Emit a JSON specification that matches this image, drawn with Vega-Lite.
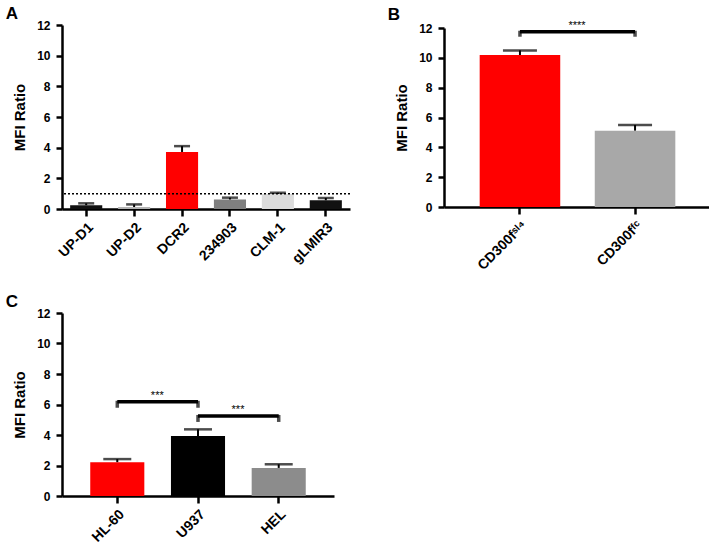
{
  "$schema": "https://vega.github.io/schema/vega-lite/v6.json",
  "padding": {"left": 5, "top": 5, "right": 2, "bottom": 4},
  "datasets": {
    "a": [
      {"name": "UP-D1", "value": 0.25, "err": 0.37},
      {"name": "UP-D2", "value": 0.13, "err": 0.3},
      {"name": "DCR2", "value": 3.72, "err": 4.1},
      {"name": "234903", "value": 0.62, "err": 0.74},
      {"name": "CLM-1", "value": 0.98, "err": 1.06},
      {"name": "gLMIR3", "value": 0.57, "err": 0.72}
    ],
    "ref": [
      {"ratio": 1}
    ],
    "b": [
      {"name": "CD300fˢᴵ⁴", "value": 10.19, "err": 10.5},
      {"name": "CD300fᶠᶜ", "value": 5.12, "err": 5.5}
    ],
    "sigB": [
      {"from": "CD300fˢᴵ⁴", "to": "CD300fᶠᶜ", "level": 11.75, "label": "****"}
    ],
    "c": [
      {"name": "HL-60", "value": 2.22, "err": 2.42},
      {"name": "U937", "value": 3.93, "err": 4.37},
      {"name": "HEL", "value": 1.84, "err": 2.08}
    ],
    "sigC": [
      {"from": "HL-60", "to": "U937", "level": 6.18, "label": "***"},
      {"from": "U937", "to": "HEL", "level": 5.25, "label": "***"}
    ]
  },
  "config": {
    "view": {"stroke": null},
    "font": "Liberation Sans",
    "axis": {
      "labelFont": "Liberation Sans",
      "titleFont": "Liberation Sans",
      "labelFontWeight": "bold",
      "titleFontWeight": "bold",
      "labelColor": "black",
      "titleColor": "black",
      "domainColor": "black",
      "tickColor": "black",
      "domainWidth": 2.5,
      "tickWidth": 2.5,
      "grid": false,
      "labelOverlap": false
    },
    "axisY": {"labelFontSize": 12, "titleFontSize": 15, "tickSize": 6, "labelPadding": 6, "titlePadding": 9},
    "axisX": {"labelFontSize": 14, "labelAngle": -45, "tickSize": 7, "labelPadding": 4},
    "title": {"anchor": "start", "frame": "bounds", "fontSize": 17, "fontWeight": "bold", "font": "Liberation Sans", "color": "black", "dx": -7, "offset": -4}
  },
  "spacing": 20,
  "resolve": {"scale": {"color": "independent", "x": "independent", "y": "independent"}},
  "vconcat": [
    {
      "spacing": 36,
      "resolve": {"scale": {"color": "independent", "x": "independent", "y": "independent"}},
      "hconcat": [
        {
          "title": "A",
          "width": 288,
          "height": 184,
          "layer": [
            {
              "data": {"name": "a"},
              "encoding": {
                "x": {"field": "name", "type": "nominal", "sort": null, "title": null,
                      "scale": {"domain": ["UP-D1", "UP-D2", "DCR2", "234903", "CLM-1", "gLMIR3"], "paddingInner": 0.33, "paddingOuter": 0.17}}
              },
              "layer": [
                {
                  "mark": {"type": "bar"},
                  "encoding": {
                    "y": {"field": "value", "type": "quantitative", "title": "MFI Ratio",
                          "scale": {"domain": [0, 12], "nice": false}, "axis": {"values": [0, 2, 4, 6, 8, 10, 12], "tickCount": 7}},
                    "color": {"field": "name", "type": "nominal", "legend": null,
                              "scale": {"domain": ["UP-D1", "UP-D2", "DCR2", "234903", "CLM-1", "gLMIR3"],
                                        "range": ["#111111", "#b3b3b3", "#ff0000", "#7f7f7f", "#dcdcdc", "#111111"]}}
                  }
                },
                {
                  "mark": {"type": "rule", "color": "black", "strokeWidth": 2},
                  "encoding": {"y": {"field": "value", "type": "quantitative"}, "y2": {"field": "err"}}
                },
                {
                  "mark": {"type": "tick", "color": "black", "thickness": 2.5, "size": 16, "orient": "horizontal"},
                  "encoding": {"y": {"field": "err", "type": "quantitative"}}
                }
              ]
            },
            {
              "data": {"name": "ref"},
              "mark": {"type": "rule", "color": "black", "strokeWidth": 1.5, "strokeDash": [2, 2]},
              "encoding": {"y": {"field": "ratio", "type": "quantitative"}}
            }
          ]
        },
        {
          "title": "B",
          "width": 267,
          "height": 182,
          "layer": [
            {
              "data": {"name": "b"},
              "encoding": {
                "x": {"field": "name", "type": "nominal", "sort": null, "title": null,
                      "scale": {"domain": ["CD300fˢᴵ⁴", "CD300fᶠᶜ"], "paddingInner": 0.3, "paddingOuter": 0.31}}
              },
              "layer": [
                {
                  "mark": {"type": "bar"},
                  "encoding": {
                    "y": {"field": "value", "type": "quantitative", "title": "MFI Ratio",
                          "scale": {"domain": [0, 12], "nice": false, "range": [182, 3]}, "axis": {"values": [0, 2, 4, 6, 8, 10, 12], "tickCount": 7}},
                    "color": {"field": "name", "type": "nominal", "legend": null,
                              "scale": {"domain": ["CD300fˢᴵ⁴", "CD300fᶠᶜ"], "range": ["#ff0000", "#a8a8a8"]}}
                  }
                },
                {
                  "mark": {"type": "rule", "color": "black", "strokeWidth": 2},
                  "encoding": {"y": {"field": "value", "type": "quantitative"}, "y2": {"field": "err"}}
                },
                {
                  "mark": {"type": "tick", "color": "black", "thickness": 2.5, "size": 34, "orient": "horizontal"},
                  "encoding": {"y": {"field": "err", "type": "quantitative"}}
                }
              ]
            },
            {
              "data": {"name": "sigB"},
              "layer": [
                {
                  "mark": {"type": "rule", "color": "black", "strokeWidth": 3.5},
                  "encoding": {
                    "x": {"field": "from", "type": "nominal"},
                    "x2": {"field": "to"},
                    "y": {"field": "level", "type": "quantitative"}
                  }
                },
                {
                  "mark": {"type": "tick", "color": "black", "thickness": 3.5, "size": 6, "orient": "vertical", "yOffset": 2},
                  "encoding": {"x": {"field": "from", "type": "nominal"}, "y": {"field": "level", "type": "quantitative"}}
                },
                {
                  "mark": {"type": "tick", "color": "black", "thickness": 3.5, "size": 6, "orient": "vertical", "yOffset": 2},
                  "encoding": {"x": {"field": "to", "type": "nominal"}, "y": {"field": "level", "type": "quantitative"}}
                },
                {
                  "mark": {"type": "text", "fontSize": 11, "baseline": "bottom", "dx": 57, "dy": -1, "color": "black"},
                  "encoding": {"x": {"field": "from", "type": "nominal"}, "y": {"field": "level", "type": "quantitative"}, "text": {"field": "label"}}
                }
              ]
            }
          ]
        }
      ]
    },
    {
      "title": "C",
      "width": 272,
      "height": 183,
      "layer": [
        {
          "data": {"name": "c"},
          "encoding": {
            "x": {"field": "name", "type": "nominal", "sort": null, "title": null,
                  "scale": {"domain": ["HL-60", "U937", "HEL"], "paddingInner": 0.33, "paddingOuter": 0.35}}
          },
          "layer": [
            {
              "mark": {"type": "bar"},
              "encoding": {
                "y": {"field": "value", "type": "quantitative", "title": "MFI Ratio",
                      "scale": {"domain": [0, 12], "nice": false}, "axis": {"values": [0, 2, 4, 6, 8, 10, 12], "tickCount": 7}},
                "color": {"field": "name", "type": "nominal", "legend": null,
                          "scale": {"domain": ["HL-60", "U937", "HEL"], "range": ["#ff0000", "#000000", "#8c8c8c"]}}
              }
            },
            {
              "mark": {"type": "rule", "color": "black", "strokeWidth": 2},
              "encoding": {"y": {"field": "value", "type": "quantitative"}, "y2": {"field": "err"}}
            },
            {
              "mark": {"type": "tick", "color": "black", "thickness": 2.5, "size": 28, "orient": "horizontal"},
              "encoding": {"y": {"field": "err", "type": "quantitative"}}
            }
          ]
        },
        {
          "data": {"name": "sigC"},
          "layer": [
            {
              "mark": {"type": "rule", "color": "black", "strokeWidth": 3.5},
              "encoding": {
                "x": {"field": "from", "type": "nominal"},
                "x2": {"field": "to"},
                "y": {"field": "level", "type": "quantitative"}
              }
            },
            {
              "mark": {"type": "tick", "color": "black", "thickness": 3.5, "size": 7, "orient": "vertical", "yOffset": 2.5},
              "encoding": {"x": {"field": "from", "type": "nominal"}, "y": {"field": "level", "type": "quantitative"}}
            },
            {
              "mark": {"type": "tick", "color": "black", "thickness": 3.5, "size": 7, "orient": "vertical", "yOffset": 2.5},
              "encoding": {"x": {"field": "to", "type": "nominal"}, "y": {"field": "level", "type": "quantitative"}}
            },
            {
              "mark": {"type": "text", "fontSize": 11, "baseline": "bottom", "dx": 40, "dy": -1, "color": "black"},
              "encoding": {"x": {"field": "from", "type": "nominal"}, "y": {"field": "level", "type": "quantitative"}, "text": {"field": "label"}}
            }
          ]
        }
      ]
    }
  ]
}
